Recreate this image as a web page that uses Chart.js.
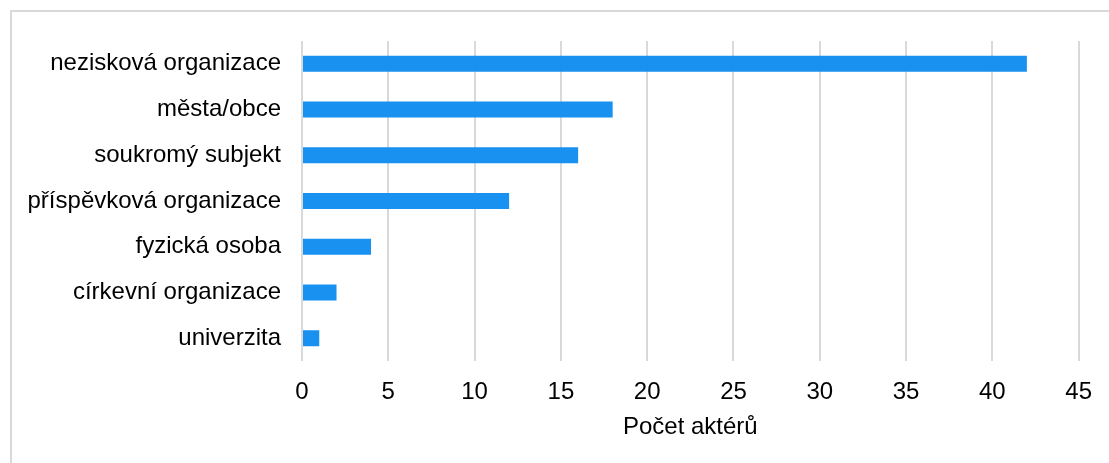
<!DOCTYPE html>
<html>
<head>
<meta charset="utf-8">
<script src="https://cdn.jsdelivr.net/npm/chart.js@4/dist/chart.umd.min.js"></script>
<style>
  html, body { margin: 0; padding: 0; background: #fff; overflow: hidden; }
  .wrap { position: relative; width: 1109px; height: 463px; }
  .frame { position: absolute; left: 10px; top: 10px; width: 1200px; height: 600px;
           border-top: 2px solid #d9d9d9; border-left: 2px solid #d9d9d9; }
  canvas { position: absolute; left: 0; top: 0; }
</style>
</head>
<body>
<div class="wrap">
  <div class="frame"></div>
  <canvas id="actorsChart" width="1109" height="463"></canvas>
</div>
<script>
// data
const categories = [
  "nezisková organizace",
  "města/obce",
  "soukromý subjekt",
  "příspěvková organizace",
  "fyzická osoba",
  "církevní organizace",
  "univerzita"
];
const actorCounts = [42, 18, 16, 12, 4, 2, 1];
const xTicks = [0, 5, 10, 15, 20, 25, 30, 35, 40, 45];
const xTitle = "Počet aktérů";

const font = { family: "'Liberation Sans', Arial, sans-serif", size: 24 };

new Chart(document.getElementById("actorsChart"), {
  type: "bar",
  data: {
    labels: categories,
    datasets: [
      {
        data: actorCounts,
        backgroundColor: "#1991f1",
        borderWidth: 0,
        barPercentage: 0.7,
        categoryPercentage: 0.5,
      },
    ],
  },
  options: {
    indexAxis: "y",
    responsive: false,
    devicePixelRatio: 1,
    animation: false,
    layout: { padding: { left: 0, right: 30, top: 41, bottom: 0 } },
    plugins: { legend: { display: false }, tooltip: { enabled: false } },
    scales: {
      x: {
        min: 0,
        max: xTicks[xTicks.length - 1],
        afterBuildTicks: (s) => { s.ticks = xTicks.map((v) => ({ value: v })); },
        afterFit: (s) => { s.height = 102; },
        grid: { color: "#d9d9d9", lineWidth: 2, drawTicks: false },
        border: { display: false },
        ticks: { font: font, color: "#000", padding: 17, maxRotation: 0 },
        title: { display: true, text: xTitle, font: font, color: "#000", padding: { top: 21, bottom: 21 } },
      },
      y: {
        afterFit: (s) => { s.width = 302; },
        grid: { display: false, drawTicks: false },
        border: { display: false },
        ticks: { font: font, color: "#000", padding: 21 },
      },
    },
  },
});
</script>
</body>
</html>
